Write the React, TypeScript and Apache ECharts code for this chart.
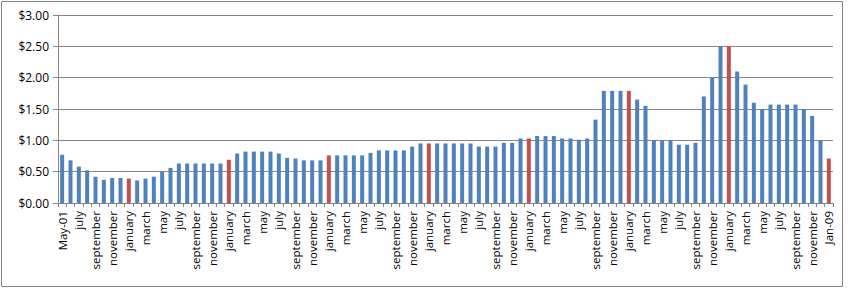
import React, { useEffect, useRef } from "react";
import * as echarts from "echarts";

const monthNames = [
  "january", "february", "march", "april", "may", "june",
  "july", "august", "september", "october", "november", "december",
];
const startMonthIndex = 4; // May 2001
const firstLabel = "May-01";
const lastLabel = "Jan-09";

const values2001 = [0.77, 0.68, 0.58, 0.52, 0.42, 0.37, 0.40, 0.40];
const values2002 = [0.39, 0.36, 0.39, 0.42, 0.50, 0.56, 0.63, 0.63, 0.63, 0.63, 0.63, 0.63];
const values2003 = [0.69, 0.79, 0.82, 0.82, 0.82, 0.82, 0.79, 0.72, 0.71, 0.68, 0.68, 0.68];
const values2004 = [0.76, 0.76, 0.76, 0.76, 0.76, 0.80, 0.84, 0.84, 0.84, 0.84, 0.90, 0.95];
const values2005 = [0.95, 0.95, 0.95, 0.95, 0.95, 0.95, 0.90, 0.90, 0.90, 0.96, 0.96, 1.03];
const values2006 = [1.03, 1.07, 1.07, 1.07, 1.03, 1.03, 1.01, 1.03, 1.33, 1.79, 1.79, 1.79];
const values2007 = [1.79, 1.65, 1.55, 1.00, 1.00, 1.00, 0.93, 0.93, 0.96, 1.70, 2.00, 2.50];
const values2008 = [2.50, 2.10, 1.89, 1.60, 1.50, 1.57, 1.57, 1.57, 1.57, 1.50, 1.39, 1.00];
const values2009 = [0.71];

const values = [
  ...values2001, ...values2002, ...values2003, ...values2004, ...values2005,
  ...values2006, ...values2007, ...values2008, ...values2009,
];

const categories = values.map((_, i) => {
  if (i === 0) return firstLabel;
  if (i === values.length - 1) return lastLabel;
  return monthNames[(startMonthIndex + i) % 12];
});

const BLUE = "#4F81BD";
const RED = "#C0504D";
const GRID = "#868686";
const FONT = "'Open Sans', sans-serif";

export default function App() {
  const ref = useRef<HTMLDivElement>(null);
  useEffect(() => {
    if (!ref.current) return;
    const chart = echarts.init(ref.current, undefined, { renderer: "svg" });
    chart.setOption({
      animation: false,
      backgroundColor: "#ffffff",
      grid: { left: 58, right: 16, top: 15, bottom: 88, containLabel: false },
      graphic: [
        {
          type: "rect",
          shape: { x: 1.5, y: 1.5, width: 841, height: 285 },
          style: { fill: "none", stroke: GRID, lineWidth: 1 },
          silent: true,
        },
      ],
      xAxis: {
        type: "category",
        data: categories,
        boundaryGap: true,
        axisLine: { show: true, lineStyle: { color: GRID, width: 1 } },
        axisTick: { show: true, interval: 0, length: 4, lineStyle: { color: GRID } },
        axisLabel: {
          interval: 1,
          rotate: 90,
          margin: 8,
          color: "#000",
          fontFamily: FONT,
          fontSize: 11.5,
        },
        splitLine: { show: false },
      },
      yAxis: {
        type: "value",
        min: 0,
        max: 3,
        interval: 0.5,
        axisLine: { show: true, lineStyle: { color: GRID, width: 1 } },
        axisTick: { show: true, length: 5, lineStyle: { color: GRID } },
        axisLabel: {
          margin: 9,
          color: "#000",
          fontFamily: FONT,
          fontSize: 12,
          formatter: (v: number) => "$" + v.toFixed(2),
        },
        splitLine: { show: true, lineStyle: { color: GRID, width: 1 } },
      },
      series: [
        {
          type: "bar",
          barWidth: 4,
          data: values.map((v, i) => ({
            value: v,
            itemStyle: { color: (startMonthIndex + i) % 12 === 0 ? RED : BLUE },
          })),
        },
      ],
    });
    return () => chart.dispose();
  }, []);
  return (
    <div
      ref={ref}
      style={{ position: "fixed", left: 0, top: 0, width: 849, height: 291, background: "#fff" }}
    />
  );
}
